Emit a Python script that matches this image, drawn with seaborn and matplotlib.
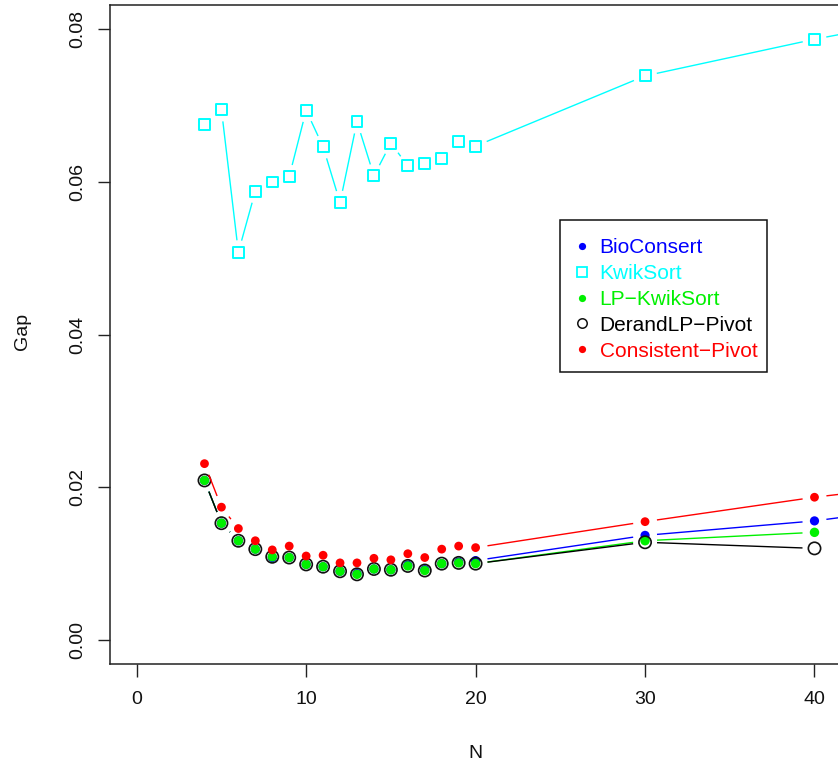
import numpy as np
import pandas as pd
import matplotlib
matplotlib.use("Agg")
import matplotlib.pyplot as plt
from matplotlib.lines import Line2D
from matplotlib.patches import Rectangle
import seaborn as sns

# Problem sizes
n_small = [4, 5, 6, 7, 8, 9, 10, 11, 12, 13, 14, 15, 16, 17, 18, 19, 20, 30, 40]
n_long = n_small + [50]

# Gap of each method
bioconsert = [0.0209, 0.0153, 0.0130, 0.0119, 0.0108, 0.0108, 0.0099, 0.0096, 0.0090,
              0.0087, 0.0093, 0.0092, 0.0098, 0.0092, 0.0100, 0.0102, 0.0104,
              0.0137, 0.0156, 0.0185]
kwiksort = [0.0675, 0.0695, 0.0508, 0.0588, 0.0600, 0.0607, 0.0694, 0.0646, 0.0573,
            0.0679, 0.0608, 0.0651, 0.0621, 0.0624, 0.0631, 0.0653, 0.0647,
            0.0739, 0.0787, 0.0829]
lp_kwiksort = [0.0209, 0.0153, 0.0130, 0.0119, 0.0109, 0.0108, 0.0099, 0.0096, 0.0090,
               0.0086, 0.0093, 0.0092, 0.0097, 0.0091, 0.0100, 0.0101, 0.0100,
               0.0130, 0.0141]
derand_lp_pivot = [0.0209, 0.0153, 0.0130, 0.0119, 0.0109, 0.0108, 0.0099, 0.0096, 0.0090,
                   0.0086, 0.0093, 0.0092, 0.0097, 0.0091, 0.0100, 0.0101, 0.0100,
                   0.0128, 0.0120]
consistent_pivot = [0.0231, 0.0174, 0.0146, 0.0130, 0.0118, 0.0123, 0.0110, 0.0111, 0.0101,
                    0.0101, 0.0107, 0.0105, 0.0113, 0.0108, 0.0119, 0.0123, 0.0121,
                    0.0155, 0.0187, 0.0213]

methods = ["BioConsert", "KwikSort", "LP\u2212KwikSort", "DerandLP\u2212Pivot", "Consistent\u2212Pivot"]
colors = ["#0000FF", "#00FFFF", "#00F000", "#000000", "#FF0000"]

sns.set_theme(style="white")
plt.rcParams["font.family"] = ["Liberation Sans", "DejaVu Sans"]

W, H, DPI = 838, 767, 100
fig = plt.figure(figsize=(W / DPI, H / DPI), dpi=DPI)
ax = fig.add_axes([109.6 / W, 1 - 664.4 / H, 732.0 / W, (664.4 - 4.9) / H])
ax.set_xlim(-1.6, 41.6)
ax.set_ylim(-0.0032, 0.0832)


def gapped_line(ax, x, y, color, z, gap_px=12.0, lw=1.0):
    """Connect consecutive points with segments that stop short of each point."""
    pts = ax.transData.transform(np.column_stack([x, y]))
    inv = ax.transData.inverted()
    for p0, p1 in zip(pts[:-1], pts[1:]):
        d = p1 - p0
        length = np.hypot(*d)
        if length <= 2 * gap_px:
            continue
        u = d / length
        a = inv.transform(p0 + u * gap_px)
        b = inv.transform(p1 - u * gap_px)
        ax.plot([a[0], b[0]], [a[1], b[1]], color=color, lw=lw, zorder=z,
                solid_capstyle="butt")


series = [
    (n_long, bioconsert, dict(marker="o", s=44, color=colors[0], edgecolor="none")),
    (n_long, kwiksort, dict(marker="s", s=62, facecolor="none", edgecolor=colors[1], linewidth=1.4)),
    (n_small, lp_kwiksort, dict(marker="o", s=46, color=colors[2], edgecolor="none")),
    (n_small, derand_lp_pivot, dict(marker="o", s=78, facecolor="none", edgecolor="#111111", linewidth=1.2)),
    (n_long, consistent_pivot, dict(marker="o", s=40, color=colors[4], edgecolor="none")),
]

for i, (xs, ys, kw) in enumerate(series):
    z = 3 + 2 * i
    gapped_line(ax, xs, ys, colors[i], z)
    df = pd.DataFrame({"N": xs, "Gap": ys})
    sns.scatterplot(data=df, x="N", y="Gap", ax=ax, zorder=z + 1, legend=False, **kw)

ax.set_xlim(-1.6, 41.6)
ax.set_ylim(-0.0032, 0.0832)

ax.set_xticks([0, 10, 20, 30, 40])
ax.set_yticks([0.00, 0.02, 0.04, 0.06, 0.08])
ax.set_yticklabels(["0.00", "0.02", "0.04", "0.06", "0.08"], rotation=90, va="center")
ax.tick_params(axis="both", direction="out", length=9, width=1.0, color="#222222",
               labelsize=14, labelcolor="#111111", bottom=True, left=True)
ax.tick_params(axis="x", pad=10)
ax.tick_params(axis="y", pad=8)
for side in ["left", "right", "top", "bottom"]:
    ax.spines[side].set_visible(True)
    ax.spines[side].set_color("#222222")
    ax.spines[side].set_linewidth(1.1)

ax.set_xlabel("")
ax.set_ylabel("")
fig.text(475 / W, 1 - 753 / H, "N", ha="center", va="center", fontsize=14, color="#111111")
fig.text(23 / W, 1 - 331 / H, "Gap", ha="center", va="center", rotation=90,
         fontsize=14, color="#111111")

handles = [
    Line2D([], [], ls="none", marker="o", markersize=5.2, color=colors[0], markeredgewidth=0),
    Line2D([], [], ls="none", marker="s", markersize=6.5, markerfacecolor="none",
           markeredgecolor=colors[1], markeredgewidth=1.3),
    Line2D([], [], ls="none", marker="o", markersize=5.2, color=colors[2], markeredgewidth=0),
    Line2D([], [], ls="none", marker="o", markersize=6.8, markerfacecolor="none",
           markeredgecolor="#111111", markeredgewidth=1.1),
    Line2D([], [], ls="none", marker="o", markersize=5.2, color=colors[4], markeredgewidth=0),
]

# Legend frame drawn as its own box, entries placed inside it
box = Rectangle((560 / W, 1 - 372 / H), 207 / W, 152 / H, transform=fig.transFigure,
                facecolor="white", edgecolor="#111111", linewidth=1.1, zorder=19)
ax.add_artist(box)
box.set_clip_on(False)

leg = ax.legend(handles, methods, loc="upper left",
                bbox_to_anchor=(560 / W, 1 - 222.5 / H), bbox_transform=fig.transFigure,
                fontsize=15, frameon=False,
                borderpad=0.75, handlelength=0.65, handletextpad=0.5, labelspacing=0.33,
                borderaxespad=0.0)
leg.set_zorder(20)
for txt, c in zip(leg.get_texts(), ["#0000FF", "#00FFFF", "#00F000", "#000000", "#FF0000"]):
    txt.set_color(c)

fig.savefig("out.png", dpi=DPI)
